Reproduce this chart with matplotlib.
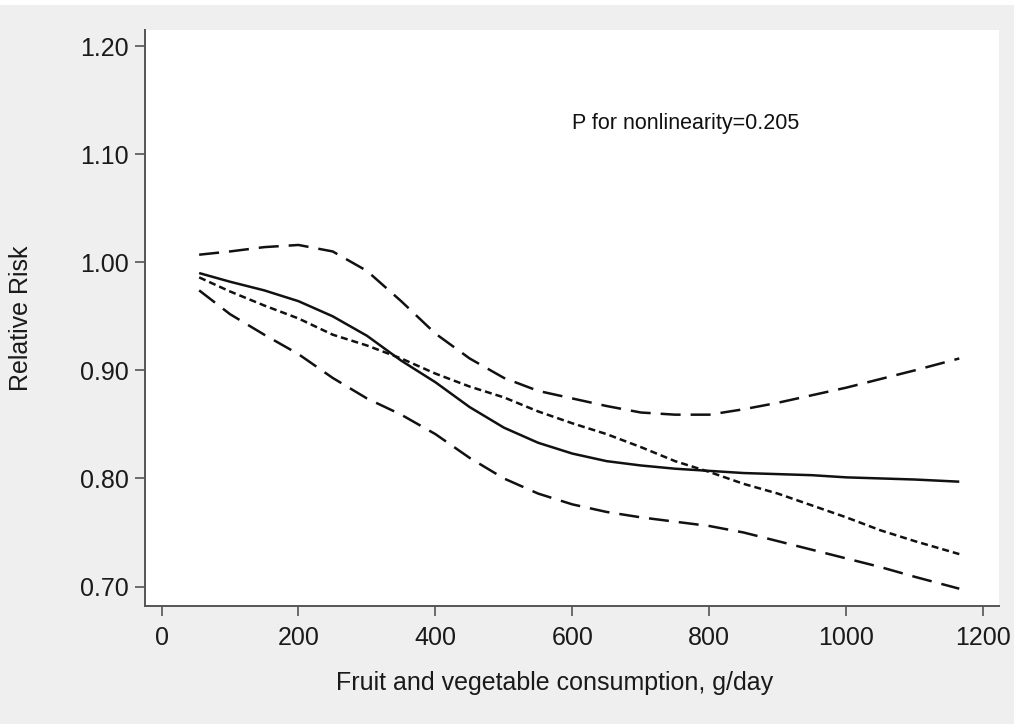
import matplotlib
matplotlib.use("Agg")
import matplotlib.pyplot as plt

# Fruit and vegetable intake (g/day) at which each curve is evaluated
intake = [55, 100, 150, 200, 250, 300, 350, 400, 450, 500, 550, 600,
          650, 700, 750, 800, 850, 900, 950, 1000, 1050, 1100, 1165]

# Nonlinear (spline) dose-response estimate
rr_spline = [0.990, 0.982, 0.974, 0.964, 0.950, 0.932, 0.909, 0.889,
             0.866, 0.847, 0.833, 0.823, 0.816, 0.812, 0.809, 0.807,
             0.805, 0.804, 0.803, 0.801, 0.800, 0.799, 0.797]

# Linear dose-response trend
rr_linear = [0.986, 0.973, 0.960, 0.948, 0.933, 0.923, 0.911, 0.897,
             0.885, 0.875, 0.862, 0.851, 0.841, 0.829, 0.816, 0.806,
             0.795, 0.786, 0.775, 0.764, 0.752, 0.742, 0.730]

# 95% confidence limits of the spline estimate
ci_upper = [1.007, 1.010, 1.014, 1.016, 1.010, 0.992, 0.964, 0.934,
            0.911, 0.893, 0.881, 0.874, 0.867, 0.861, 0.859, 0.859,
            0.864, 0.870, 0.877, 0.884, 0.892, 0.900, 0.911]
ci_lower = [0.974, 0.952, 0.933, 0.915, 0.893, 0.874, 0.859, 0.841,
            0.819, 0.800, 0.786, 0.776, 0.769, 0.764, 0.760, 0.756,
            0.750, 0.742, 0.734, 0.726, 0.718, 0.709, 0.698]

x_ticks = [0, 200, 400, 600, 800, 1000, 1200]
y_ticks = [0.70, 0.80, 0.90, 1.00, 1.10, 1.20]
y_ticklabels = ["0.70", "0.80", "0.90", "1.00", "1.10", "1.20"]

plt.rcParams["font.family"] = ["Liberation Sans", "DejaVu Sans"]

bg = "#efefef"
ink = "#111111"
axis_col = "#555555"
text_col = "#1a1a1a"

fig = plt.figure(figsize=(10.14, 7.24), dpi=100, facecolor=bg)
# thin white strip along the top edge
fig.patches.append(plt.Rectangle((0, 1 - 5 / 724), 1, 5 / 724,
                                 transform=fig.transFigure,
                                 facecolor="white", edgecolor="none",
                                 zorder=0))

ax = fig.add_axes([0.1430, 0.1630, 0.8422, 0.7956])
ax.set_facecolor("white")

lw = 1.8
ax.plot(intake, rr_spline, color=ink, lw=lw, solid_capstyle="butt")
ax.plot(intake, rr_linear, color=ink, lw=lw, dashes=(2.8, 1.6),
        dash_capstyle="butt")
ax.plot(intake, ci_upper, color=ink, lw=lw, dashes=(8.0, 4.0),
        dash_capstyle="butt")
ax.plot(intake, ci_lower, color=ink, lw=lw, dashes=(8.0, 4.0),
        dash_capstyle="butt")

ax.set_xlim(-24.1, 1223)
ax.set_ylim(0.682, 1.2149)

ax.set_xticks(x_ticks)
ax.set_xticklabels([str(v) for v in x_ticks])
ax.set_yticks(y_ticks)
ax.set_yticklabels(y_ticklabels)

for side in ("top", "right"):
    ax.spines[side].set_visible(False)
for side in ("left", "bottom"):
    ax.spines[side].set_color(axis_col)
    ax.spines[side].set_linewidth(1.4)

ax.tick_params(axis="both", direction="out", length=7.5, width=1.2,
               color=axis_col, labelsize=18, labelcolor=text_col)
ax.tick_params(axis="y", pad=4.3)
ax.tick_params(axis="x", pad=7.0)

ax.set_xlabel("Fruit and vegetable consumption, g/day", fontsize=18,
              color=text_col)
ax.set_ylabel("Relative Risk", fontsize=18, color=text_col)
ax.xaxis.set_label_coords(0.479, -0.113)
ax.yaxis.set_label_coords(-0.1311, 0.5)

ax.text(600, 1.123, "P for nonlinearity=0.205", fontsize=15.5,
        ha="left", va="baseline", color=ink)

fig.savefig("out.png", dpi=100, facecolor=bg)
